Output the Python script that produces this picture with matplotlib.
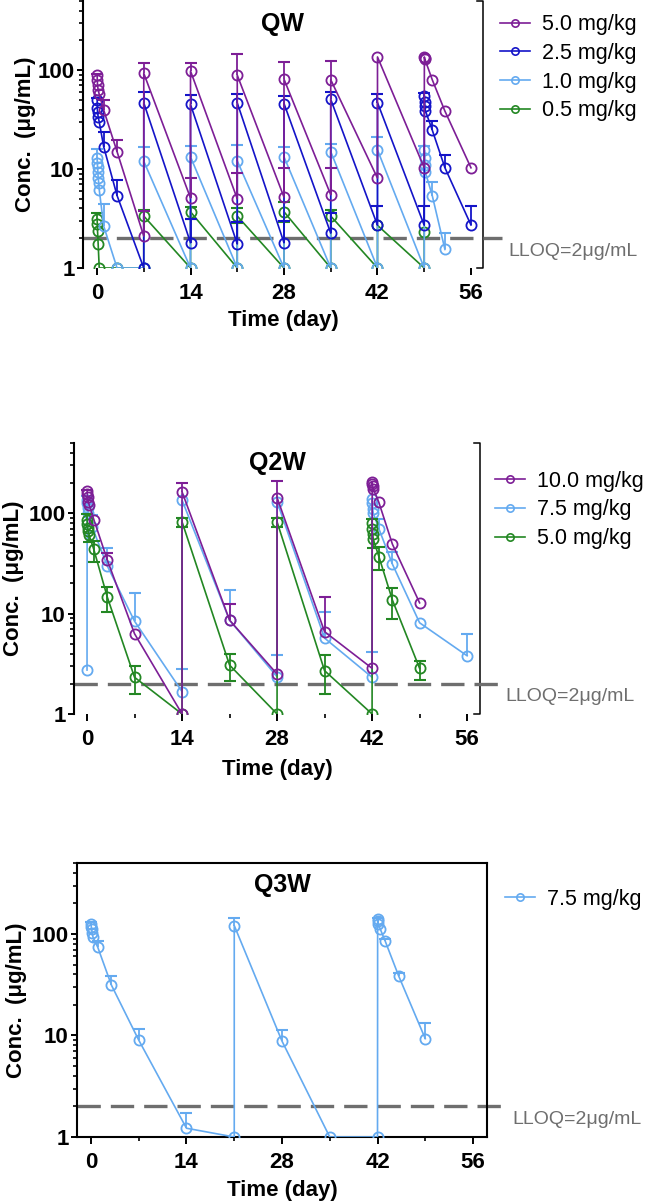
import numpy as np
import matplotlib
matplotlib.use('Agg')
import matplotlib.pyplot as plt
from matplotlib.lines import Line2D
from matplotlib.ticker import FixedLocator, FuncFormatter, LogLocator, NullFormatter

plt.rcParams['font.family'] = ['Liberation Sans', 'DejaVu Sans']

PURPLE = '#7d1e96'
BLUE = '#1414c8'
LBLUE = '#64aaf0'
GREEN = '#238723'
GREY = '#6e6e6e'

# ---- QW panel ----
qw_t_p = [0.02, 0.04, 0.08, 0.17, 0.33, 1, 3, 7, 7, 14, 14, 21, 21, 28, 28, 35, 35, 42, 42, 49,
          49.02, 49.04, 49.08, 50.2, 52.1, 56]
qw_c_p = [89, 79, 70, 63, 57, 39.5, 15, 2.1, 93, 5.1, 98, 5.0, 89, 5.2, 81, 5.5, 80, 8.1, 136, 10.3,
          136, 133, 130, 80, 38.5, 10.3]
qw_hi_p = [92, None, None, None, None, 50, 19.6, 3.8, 118, 8.2, 118, 9.2, 145, 10.2, 120, 10.3, 123,
           None, None, None, None, None, None, None, None, None]

qw_t_b = [0.02, 0.04, 0.08, 0.17, 0.33, 1, 3, 7, 7, 14, 14, 21, 21, 28, 28, 35, 35, 42, 42, 49,
          49.02, 49.04, 49.08, 49.17, 50.2, 52.1, 56]
qw_c_b = [50, 41, 38, 33.6, 30, 16.8, 5.4, 1.0, 46.7, 1.8, 45, 1.75, 46.7, 1.8, 46, 2.25, 50.6, 2.7, 47, 2.7,
          55, 48, 43, 39, 24.8, 10.3, 2.72]
qw_hi_b = [52, None, None, None, None, 23.8, 7.7, None, 60, 3.1, 56, 2.9, 58, 3.0, 55, 3.6, 60, 4.2, 58, 4.2,
           59, None, None, None, 30.6, 13.8, 4.25]

qw_t_l = [0.02, 0.04, 0.08, 0.13, 0.17, 0.25, 0.33, 1, 3, 7, 7, 14, 14, 21, 21, 28, 28, 35, 35, 42, 42, 49,
          49.02, 49.04, 49.08, 49.17, 50.2, 52.1]
qw_c_l = [13, 11.5, 10.5, 9.3, 8.2, 7.3, 6.2, 2.65, 1.0, 1.0, 12, 1.0, 13.3, 1.0, 12.1, 1.0, 13.3, 1.0, 15,
          1.0, 15.6, 1.0, 15.5, 13, 11, 9.3, 5.4, 1.54]
qw_hi_l = [16, None, None, None, None, None, None, 4.4, None, None, 16.6, None, 17, None, 17.7, None, 16.8,
           None, 18, None, 21, None, 17, None, None, None, 7.4, 2.27]

qw_t_g = [0.02, 0.04, 0.08, 0.17, 0.33, 3, 7, 7, 14, 14, 21, 21, 28, 28, 35, 35, 42, 42, 49, 49]
qw_c_g = [3.1, 2.8, 2.35, 1.75, 1.0, 1.0, 1.0, 3.35, 1.0, 3.7, 1.0, 3.35, 1.0, 3.7, 1.0, 3.35, 1.0, 2.7, 1.0, 2.33]
qw_hi_g = [3.6, None, None, None, None, None, None, 3.9, None, 4.1, None, 4.0, None, 4.7, None, 3.9,
           None, None, None, None]
qw_lo_g = [None, None, None, None, None, None, None, None, None, 3.1, None, 2.87, None, 2.9, None, None,
           None, None, None, None]
qw_labels = ['5.0 mg/kg', '2.5 mg/kg', '1.0 mg/kg', '0.5 mg/kg']

# ---- Q2W panel ----
q2_t_p = [0.02, 0.04, 0.08, 0.17, 0.33, 1, 3, 7, 14, 14, 21, 28, 28, 35, 42,
          42.02, 42.04, 42.08, 42.17, 43, 45, 49]
q2_c_p = [165, 155, 145, 130, 120, 86.5, 34, 6.3, 1.0, 163, 8.6, 2.5, 143, 6.6, 2.85,
          205, 195, 185, 175, 128, 49, 12.8]
q2_hi_p = [172, None, None, None, None, None, 40, None, None, 198, 12.6, None, 208, 14.7, None,
           None, None, None, None, None, None, None]

q2_t_l = [0, 0.02, 0.04, 0.08, 0.17, 0.75, 3, 7, 14, 14, 21, 28, 28, 35, 42,
          42.02, 42.04, 42.08, 42.17, 43, 45, 49, 56]
q2_c_l = [2.74, 135, 125, 112, 100, 73, 29.7, 8.4, 1.67, 135, 8.6, 2.35, 130, 5.7, 2.32,
          140, 125, 110, 100, 70, 31, 8.1, 3.8]
q2_hi_l = [None, 150, None, None, None, 95, 44.5, 16.2, 2.8, None, 17.2, 3.86, None, 10.4, 4.1,
           None, None, None, None, 88, 41, None, 6.25]

q2_t_g = [0.02, 0.04, 0.08, 0.17, 0.33, 1, 3, 7, 14, 14, 21, 28, 28, 35, 42,
          42.02, 42.04, 42.08, 42.17, 43, 45, 49]
q2_c_g = [85, 78, 72, 66, 60, 43.5, 14.5, 2.32, 1.0, 82, 3.07, 1.0, 82, 2.7, 1.0,
          80, 70, 62, 55, 37, 13.6, 2.85]
q2_hi_g = [98, None, None, None, None, 53, 18.5, 3.0, None, 89.6, 3.95, None, 90, 3.86, None,
           88, None, None, None, 46, 17.8, 3.4]
q2_lo_g = [None, None, None, None, 52, 32.7, 10.4, 1.6, None, 73, 2.14, None, 73, 1.58, None,
           None, None, None, 45, 27, 8.9, 2.2]
q2_labels = ['10.0 mg/kg', '7.5 mg/kg', '5.0 mg/kg']

# ---- Q3W panel ----
q3_t = [0.02, 0.04, 0.08, 0.17, 0.3, 1, 3, 7, 14, 21, 21, 28, 35, 42,
        42.02, 42.04, 42.08, 42.4, 43.1, 45.1, 49]
q3_c = [125, 118, 112, 103, 92.7, 73.8, 31.3, 9.0, 1.22, 1.0, 121, 8.8, 1.0, 1.0,
        140, 133, 126, 112, 86, 38.6, 9.3]
q3_hi = [130, None, None, None, None, 86, 38.6, 11.6, 1.72, None, 143, 11.2, None, None,
         145, None, None, None, 90, 41, 13.2]
q3_labels = ['7.5 mg/kg']


def series(ax, t, c, hi, lo, color):
    t = np.asarray(t, float)
    c = np.asarray(c, float)
    ax.plot(t, c, color=color, lw=1.2, marker='o', ms=7.3, mfc='none', mew=1.3, zorder=3)
    for ends in (hi, lo):
        if ends is None:
            continue
        e = np.asarray(ends, float)
        m = ~np.isnan(e)
        ax.vlines(t[m], c[m], e[m], color=color, lw=1.3, zorder=3)
        ax.plot(t[m], e[m], ls='none', marker='_', ms=8, mew=1.5, color=color, zorder=3)


def style(ax, xlim, title, title_off, boxed, ylpad, xlpad):
    ax.set_yscale('log')
    ax.set_ylim(1, 500)
    ax.set_xlim(*xlim)
    ax.yaxis.set_major_locator(FixedLocator([1, 10, 100]))
    ax.yaxis.set_major_formatter(FuncFormatter(lambda v, p: f'{v:g}'))
    ax.yaxis.set_minor_locator(LogLocator(base=10, subs=np.arange(2, 10)))
    ax.yaxis.set_minor_formatter(NullFormatter())
    ax.set_xticks([0, 14, 28, 42, 56])
    ax.set_xticks([7, 21, 35, 49], minor=True)
    ax.tick_params(which='major', width=1.4, labelsize=16)
    ax.tick_params(axis='x', which='major', length=5, pad=6)
    ax.tick_params(axis='y', which='major', length=4.5, pad=1.5)
    ax.tick_params(which='minor', length=3, width=1.2)
    for lab in ax.get_xticklabels() + ax.get_yticklabels():
        lab.set_fontweight('bold')
    for s in ax.spines.values():
        s.set_linewidth(1.5)
    if not boxed:
        for s in ('top', 'bottom', 'right'):
            ax.spines[s].set_visible(False)
        # GraphPad style right bracket
        ax.plot([0.985, 1, 1, 0.985], [1, 1, 0, 0], transform=ax.transAxes,
                color='k', lw=1.1, clip_on=False)
    ax.set_xlabel('Time (day)', fontsize=16, fontweight='bold', labelpad=xlpad)
    ax.set_ylabel('Conc.  (\u03bcg/mL)', fontsize=16, fontweight='bold', labelpad=ylpad)
    ax.annotate(title, xy=(0.5, 1), xycoords='axes fraction', xytext=(0, -title_off),
                textcoords='offset points', ha='center', va='center',
                fontsize=18, fontweight='bold')
    # LLOQ line
    ax.plot([xlim[0], 60.7], [2, 2], color=GREY, lw=2.4, dashes=(7, 3),
            clip_on=False, zorder=2)
    ax.annotate('LLOQ=2\u03bcg/mL', xy=(1, 2), xycoords=ax.get_yaxis_transform(),
                xytext=(18, -9.5), textcoords='offset points', fontsize=14,
                color=GREY, va='center', ha='left')


def legend(ax, colors, labels, anchor):
    handles = [Line2D([], [], color=c, lw=1.2, marker='o', ms=7, mfc='none', mew=1.2)
               for c in colors]
    ax.legend(handles, labels, loc='upper left', bbox_to_anchor=anchor, frameon=False,
              borderpad=0, borderaxespad=0, handlelength=1.4, handletextpad=0.55,
              labelspacing=0.36, fontsize=15.5, markerscale=0.75)


fig = plt.figure(figsize=(6.49, 12.01), dpi=100)

ax1 = fig.add_axes([83 / 649, 1 - 268 / 1201, 400 / 649, 267 / 1201])
series(ax1, qw_t_g, qw_c_g, qw_hi_g, qw_lo_g, GREEN)
series(ax1, qw_t_l, qw_c_l, qw_hi_l, None, LBLUE)
series(ax1, qw_t_b, qw_c_b, qw_hi_b, None, BLUE)
series(ax1, qw_t_p, qw_c_p, qw_hi_p, None, PURPLE)
style(ax1, (-2.1, 57.8), 'QW', 16.5, False, 1, 4)
legend(ax1, [PURPLE, BLUE, LBLUE, GREEN], qw_labels, (1.0425, 0.951))

ax2 = fig.add_axes([74 / 649, 1 - 714 / 1201, 406 / 649, 271 / 1201])
series(ax2, q2_t_l, q2_c_l, q2_hi_l, None, LBLUE)
series(ax2, q2_t_g, q2_c_g, q2_hi_g, q2_lo_g, GREEN)
series(ax2, q2_t_p, q2_c_p, q2_hi_p, None, PURPLE)
style(ax2, (-1.92, 57.9), 'Q2W', 14.5, False, 3, 6)
legend(ax2, [PURPLE, LBLUE, GREEN], q2_labels, (1.036, 0.898))

ax3 = fig.add_axes([77 / 649, 1 - 1137 / 1201, 410 / 649, 274 / 1201])
series(ax3, q3_t, q3_c, q3_hi, None, LBLUE)
style(ax3, (-2.05, 58.05), 'Q3W', 16, True, 3, 4.5)
legend(ax3, [LBLUE], q3_labels, (1.044, 0.906))

fig.savefig('out.png', dpi=100)
